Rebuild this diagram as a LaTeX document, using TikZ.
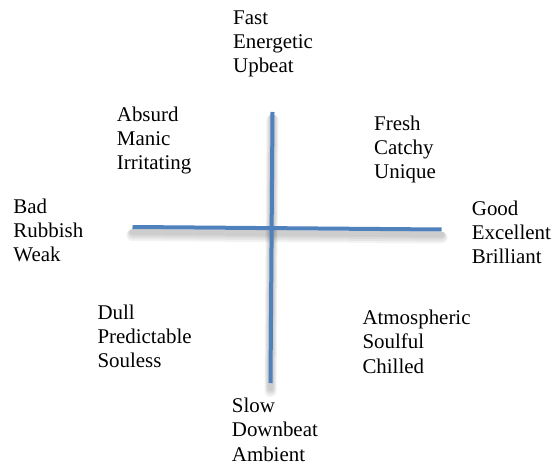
\documentclass[tikz,border=0pt]{standalone}
\usepackage{fontspec}
\setmainfont{Liberation Serif}
\definecolor{axisblue}{RGB}{79,129,189}
\usetikzlibrary{positioning}
\tikzset{
  wordlist/.style={anchor=base west, inner sep=0pt, align=left, font=\fontsize{21}{24.4}\selectfont},
  axisline/.style={axisblue, line width=4bp},
  axisshadow/.style={black, opacity=0.05, line cap=round}
}
\begin{document}
\begin{tikzpicture}[x=1bp, y=-1bp]
  \useasboundingbox[fill=white] (0,0) rectangle (559,466);

  % Axis end points
  \coordinate (top) at (272.5,112);
  \coordinate (bot) at (270.5,383);
  \coordinate (lft) at (132.5,227);
  \coordinate (rgt) at (441.5,229.5);

  % Soft shadow under the axes
  \foreach \s in {1,...,4} {
    \draw[axisshadow, line width=4bp+2*\s bp] ([yshift=-4bp-\s bp]top) -- ([yshift=-4bp-\s bp]bot);
    \draw[axisshadow, line width=4bp+2*\s bp] ([yshift=-4bp-\s bp]lft) -- ([yshift=-4bp-\s bp]rgt);
  }

  % Axes
  \draw[axisline] (top) -- (bot);
  \draw[axisline] (lft) -- (rgt);

  % Word lists (placed at the baseline of their last line)
  \node[wordlist] (fast) at (233,73) {Fast\\Energetic\\Upbeat};
  \node[wordlist] (absurd) at (116.7,170) {Absurd\\Manic\\Irritating};
  \node[wordlist] (fresh) at (374,179) {Fresh\\Catchy\\Unique};
  \node[wordlist] (bad) at (13.3,261.7) {Bad\\Rubbish\\Weak};
  \node[wordlist] (good) at (471.7,264) {Good\\Excellent\\Brilliant};
  \node[wordlist] (dull) at (97.3,367.7) {Dull\\Predictable\\Souless};
  \node[wordlist] (atmos) at (362.3,373.3) {Atmospheric\\Soulful\\Chilled};
  \node[wordlist] (slow) at (231.7,461) {Slow\\Downbeat\\Ambient};
\end{tikzpicture}
\end{document}
